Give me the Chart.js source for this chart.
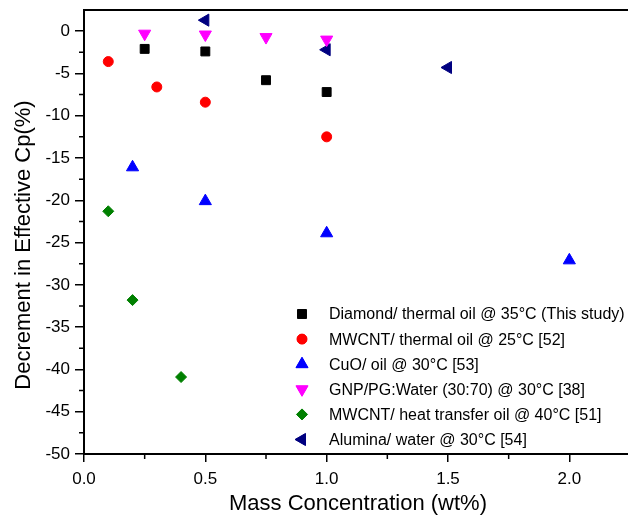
<!DOCTYPE html>
<html>
<head>
<meta charset="utf-8">
<script src="https://cdn.jsdelivr.net/npm/chart.js@4.4.1/dist/chart.umd.min.js"></script>
<style>
  body { margin: 0; background: #fff; overflow: hidden; }
  #wrap { width: 638px; height: 515px; }
</style>
</head>
<body>
<div id="wrap"><canvas id="cp"></canvas></div>
<script>
// series: x = mass concentration (wt%), y = decrement in Cp (%)
const diamondX = [0.25, 0.5, 0.75, 1.0];
const diamondY = [-2.1, -2.4, -5.8, -7.2];
const mwcntOilX = [0.1, 0.3, 0.5, 1.0];
const mwcntOilY = [-3.6, -6.6, -8.4, -12.5];
const cuoX = [0.2, 0.5, 1.0, 2.0];
const cuoY = [-16.1, -20.1, -23.9, -27.1];
const gnpX = [0.25, 0.5, 0.75, 1.0];
const gnpY = [-0.3, -0.4, -0.7, -1.0];
const mwcntHtX = [0.1, 0.2, 0.4];
const mwcntHtY = [-21.3, -31.8, -40.9];
const aluminaX = [0.5, 1.0, 1.5];
const aluminaY = [1.3, -2.2, -4.3];

const seriesLabels = [
  'Diamond/ thermal oil @ 35°C (This study)',
  'MWCNT/ thermal oil @ 25°C [52]',
  'CuO/ oil @ 30°C [53]',
  'GNP/PG:Water (30:70) @ 30°C [38]',
  'MWCNT/ heat transfer oil @ 40°C [51]',
  'Alumina/ water @ 30°C [54]'
];
const xTicks = [0, 0.5, 1.0, 1.5, 2.0];
const yTicks = [-50, -45, -40, -35, -30, -25, -20, -15, -10, -5, 0];
const xTitle = 'Mass Concentration (wt%)';
const yTitle = 'Decrement in Effective Cp(%)';

function pts(xs, ys) {
  return xs.map((x, i) => ({ x: x, y: ys[i] }));
}

const font = 'Arial, "Liberation Sans", sans-serif';

let datasets = [
  { label: seriesLabels[0], data: pts(diamondX, diamondY), pointStyle: 'rect', pointRadius: 6.3, color: '#000000', rot: 0 },
  { label: seriesLabels[1], data: pts(mwcntOilX, mwcntOilY), pointStyle: 'circle', pointRadius: 5, color: '#ff0000', rot: 0 },
  { label: seriesLabels[2], data: pts(cuoX, cuoY), pointStyle: 'triangle', pointRadius: 7, color: '#0000ff', rot: 0 },
  { label: seriesLabels[3], data: pts(gnpX, gnpY), pointStyle: 'triangle', pointRadius: 7, color: '#ff00ff', rot: 180 },
  { label: seriesLabels[4], data: pts(mwcntHtX, mwcntHtY), pointStyle: 'rectRot', pointRadius: 5.5, color: '#008000', rot: 0 },
  { label: seriesLabels[5], data: pts(aluminaX, aluminaY), pointStyle: 'triangle', pointRadius: 7, color: '#000080', rot: -90 }
].map(d => ({
  label: d.label,
  data: d.data,
  pointStyle: d.pointStyle,
  pointRadius: d.pointRadius,
  pointRotation: d.rot,
  pointBackgroundColor: d.color,
  pointBorderColor: d.color,
  pointBorderWidth: 1,
  showLine: false
}));

// minor ticks, top frame line, axis titles and the legend box
const extras = {
  id: 'extras',
  afterDraw(chart) {
    const ctx = chart.ctx;
    const a = chart.chartArea;
    const xs = chart.scales.x, ys = chart.scales.y;
    ctx.save();
    ctx.strokeStyle = '#000';
    ctx.lineWidth = 2;
    ctx.beginPath();
    ctx.moveTo(a.left, a.top); ctx.lineTo(a.right, a.top);
    ctx.stroke();
    ctx.lineWidth = 1.5;
    ctx.beginPath();
    [0.25, 0.75, 1.25, 1.75].forEach(v => {
      const px = xs.getPixelForValue(v);
      ctx.moveTo(px, a.bottom); ctx.lineTo(px, a.bottom + 5);
    });
    for (let v = -47.5; v < 0; v += 5) {
      const py = ys.getPixelForValue(v);
      ctx.moveTo(a.left, py); ctx.lineTo(a.left - 5, py);
    }
    ctx.stroke();

    // axis titles
    ctx.fillStyle = '#000';
    ctx.font = '22px ' + font;
    ctx.textAlign = 'center';
    ctx.textBaseline = 'alphabetic';
    ctx.fillText(xTitle, 358, 510);
    ctx.save();
    ctx.translate(30, 245);
    ctx.rotate(-Math.PI / 2);
    ctx.fillText(yTitle, 0, 0);
    ctx.restore();

    // legend
    const lx = 302, ly0 = 314, step = 25.1;
    ctx.font = '16px ' + font;
    ctx.textAlign = 'left';
    ctx.textBaseline = 'middle';
    chart.data.datasets.forEach((ds, i) => {
      const y = ly0 + i * step;
      ctx.fillStyle = ds.pointBackgroundColor;
      ctx.strokeStyle = ds.pointBorderColor;
      ctx.lineWidth = 1;
      Chart.helpers.drawPoint(ctx, {
        pointStyle: ds.pointStyle,
        radius: ds.pointRadius,
        rotation: ds.pointRotation,
        borderWidth: 1
      }, lx, y);
      ctx.fill();
      ctx.fillStyle = '#000';
      ctx.fillText(ds.label, lx + 27, y + 1);
    });
    ctx.restore();
  }
};

new Chart(document.getElementById('cp'), {
  type: 'scatter',
  data: { datasets: datasets },
  options: {
    responsive: true,
    maintainAspectRatio: false,
    animation: false,
    layout: { padding: { top: 10, right: 0, left: 0, bottom: 0 } },
    plugins: { legend: { display: false }, tooltip: { enabled: false } },
    scales: {
      x: {
        type: 'linear',
        min: 0,
        max: 2.25,
        afterBuildTicks: s => { s.ticks = xTicks.map(v => ({ value: v })); },
        afterFit: s => { s.height = 61; s.paddingRight = 0; s.paddingLeft = 0; },
        border: { display: true, color: '#000', width: 2 },
        grid: { drawOnChartArea: false, drawTicks: true, tickLength: 8, color: '#000', lineWidth: 1.5 },
        ticks: { color: '#000', font: { size: 17, family: font }, padding: 7, maxRotation: 0,
                 callback: v => Number(v).toFixed(1) }
      },
      y: {
        type: 'linear',
        min: -50,
        max: 2.5,
        afterBuildTicks: s => { s.ticks = yTicks.map(v => ({ value: v })); },
        afterFit: s => { s.width = 84; s.paddingTop = 0; s.paddingBottom = 0; },
        border: { display: true, color: '#000', width: 2 },
        grid: { drawOnChartArea: false, drawTicks: true, tickLength: 9, color: '#000', lineWidth: 1.5 },
        ticks: { color: '#000', font: { size: 17, family: font }, padding: 5 }
      }
    }
  },
  plugins: [extras]
});
</script>
</body>
</html>
